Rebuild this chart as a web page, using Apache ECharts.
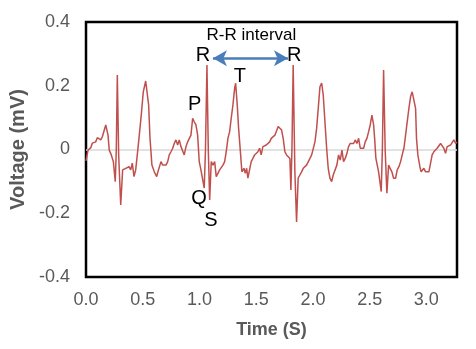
<!DOCTYPE html>
<html>
<head>
<meta charset="utf-8">
<script src="https://cdn.jsdelivr.net/npm/echarts@6/dist/echarts.min.js"></script>
<style>
  html, body { margin: 0; padding: 0; background: #fff; }
  #chart { width: 476px; height: 349px; }
</style>
</head>
<body>
<div id="chart"></div>
<script>
// ECG trace: time (s) and voltage (mV)
const timeS = [
  0.000, 0.018, 0.041, 0.056, 0.070, 0.085, 0.100, 0.115, 0.130, 0.144,
  0.159, 0.174, 0.182, 0.194, 0.205, 0.223, 0.241, 0.258, 0.267, 0.276,
  0.288, 0.306, 0.323, 0.335, 0.350, 0.364, 0.379, 0.394, 0.408, 0.423,
  0.438, 0.452, 0.467, 0.487, 0.505, 0.526, 0.540, 0.552, 0.564, 0.581,
  0.602, 0.623, 0.634, 0.646, 0.661, 0.676, 0.690, 0.705, 0.720, 0.734,
  0.749, 0.764, 0.778, 0.793, 0.808, 0.822, 0.837, 0.852, 0.866, 0.881,
  0.896, 0.910, 0.925, 0.940, 0.954, 0.969, 0.984, 0.998, 1.013, 1.028,
  1.042, 1.053, 1.066, 1.078, 1.090, 1.104, 1.119, 1.134, 1.148, 1.163,
  1.178, 1.192, 1.207, 1.222, 1.236, 1.251, 1.266, 1.280, 1.295, 1.310,
  1.319, 1.333, 1.345, 1.363, 1.374, 1.392, 1.404, 1.416, 1.427, 1.442,
  1.456, 1.471, 1.486, 1.500, 1.515, 1.530, 1.544, 1.559, 1.574, 1.589,
  1.604, 1.619, 1.633, 1.650, 1.665, 1.680, 1.694, 1.709, 1.724, 1.738,
  1.753, 1.768, 1.782, 1.797, 1.806, 1.815, 1.826, 1.841, 1.856, 1.870,
  1.885, 1.900, 1.915, 1.930, 1.944, 1.959, 1.974, 1.989, 2.003, 2.018,
  2.033, 2.047, 2.062, 2.077, 2.091, 2.106, 2.121, 2.135, 2.150, 2.165,
  2.179, 2.196, 2.211, 2.226, 2.241, 2.256, 2.270, 2.285, 2.300, 2.314,
  2.329, 2.344, 2.359, 2.373, 2.388, 2.403, 2.417, 2.432, 2.447, 2.461,
  2.476, 2.491, 2.505, 2.520, 2.535, 2.544, 2.555, 2.567, 2.579, 2.590,
  2.602, 2.612, 2.623, 2.637, 2.652, 2.667, 2.681, 2.696, 2.711, 2.729,
  2.743, 2.758, 2.773, 2.787, 2.802, 2.817, 2.826, 2.837, 2.846, 2.861,
  2.875, 2.890, 2.905, 2.913, 2.925, 2.943, 2.954, 2.966, 2.978, 2.993,
  3.007, 3.022, 3.037, 3.051, 3.066, 3.081, 3.095, 3.110, 3.125, 3.139,
  3.154, 3.169, 3.183, 3.198, 3.213, 3.227, 3.242, 3.258, 3.269
];
const voltageMv = [
  -0.036, -0.002, 0.005, 0.020, 0.014, 0.024, 0.037, 0.035, 0.030, 0.040,
  0.045, 0.077, 0.082, 0.045, -0.002, -0.017, -0.038, -0.101, -0.002, 0.234,
  -0.017, -0.174, -0.064, -0.070, -0.059, -0.064, -0.054, -0.064, -0.043, -0.085,
  -0.064, -0.017, 0.035, 0.108, 0.181, 0.215, 0.218, 0.140, 0.036, -0.049,
  -0.070, -0.085, -0.070, -0.075, -0.038, -0.049, -0.043, -0.049, -0.038, -0.017,
  -0.007, 0.004, 0.019, 0.030, 0.014, 0.030, 0.009, 0.004, -0.017, 0.009,
  0.024, 0.019, 0.045, 0.098, 0.087, 0.077, 0.045, -0.038, -0.064, -0.070,
  -0.121, -0.002, 0.265, -0.002, -0.158, -0.038, -0.049, -0.038, -0.085, -0.090,
  -0.064, -0.059, -0.049, -0.038, -0.007, 0.035, 0.056, 0.098, 0.140, 0.192,
  0.208, 0.140, 0.067, -0.017, -0.070, -0.059, -0.075, -0.059, -0.090, -0.085,
  -0.038, -0.028, -0.017, -0.012, -0.007, 0.004, -0.017, 0.009, 0.004, 0.014,
  0.009, 0.024, 0.035, 0.035, 0.045, 0.051, 0.072, 0.072, 0.061, 0.035,
  -0.007, -0.017, -0.012, -0.028, -0.127, -0.002, 0.265, -0.070, -0.227, -0.090,
  -0.080, -0.070, -0.059, -0.059, -0.049, -0.043, -0.028, -0.017, -0.012, 0.024,
  0.067, 0.129, 0.197, 0.208, 0.171, 0.087, 0.004, -0.059, -0.090, -0.101,
  -0.080, -0.080, -0.049, -0.017, -0.033, -0.002, -0.038, -0.028, -0.012, 0.009,
  0.019, 0.024, 0.019, 0.030, 0.019, 0.035, 0.004, -0.002, 0.004, 0.024,
  0.035, 0.056, 0.077, 0.108, 0.077, 0.035, -0.028, -0.049, -0.070, -0.075,
  -0.132, -0.002, 0.249, -0.002, -0.137, -0.049, -0.054, -0.070, -0.090, -0.090,
  -0.064, -0.054, -0.038, -0.017, 0.004, 0.045, 0.072, 0.077, 0.129, 0.166,
  0.181, 0.181, 0.129, 0.035, -0.017, -0.054, -0.070, -0.064, -0.059, -0.070,
  -0.064, -0.070, -0.043, -0.017, -0.007, -0.002, 0.004, 0.009, 0.019, 0.014,
  0.004, -0.012, 0.009, 0.004, 0.014, 0.009, 0.030, 0.019, 0.024
];

// wave labels placed in data coordinates
const waveLabels = ['R', 'R', 'P', 'T', 'Q', 'S'];
const waveLabelT = [1.031, 1.835, 0.958, 1.357, 0.996, 1.101];
const waveLabelV = [0.295, 0.295, 0.140, 0.229, -0.155, -0.224];

// R-R interval arrow
const rrText = 'R-R interval';
const rrTextPos = [1.458, 0.359];
const rrArrowT = [1.119, 1.780];
const rrArrowV = 0.286;

const chart = echarts.init(document.getElementById('chart'));

const seriesData = timeS.map((t, i) => [t, voltageMv[i]]);

const labelPoints = waveLabels.map((name, i) => ({
  name: name,
  coord: [waveLabelT[i], waveLabelV[i]]
}));
labelPoints.push({
  name: rrText,
  coord: rrTextPos,
  label: { fontSize: 17 }
});

chart.setOption({
  backgroundColor: '#fff',
  animation: false,
  grid: {
    left: 86, right: 19, top: 22, bottom: 72,
    show: true, borderColor: '#000', borderWidth: 2.5, backgroundColor: 'transparent'
  },
  xAxis: {
    type: 'value',
    min: 0,
    max: 3.27,
    interval: 0.5,
    name: 'Time (S)',
    nameLocation: 'middle',
    nameGap: 53,
    nameTextStyle: {
      fontFamily: 'Liberation Sans', fontSize: 18, fontWeight: 'bold',
      color: '#595959', verticalAlign: 'middle'
    },
    axisLine: { show: false },
    axisTick: { show: false },
    splitLine: { show: false },
    axisLabel: {
      showMaxLabel: false,
      margin: 14,
      fontFamily: 'Liberation Sans', fontSize: 18, color: '#595959',
      formatter: v => (Math.abs(v / 0.5 - Math.round(v / 0.5)) > 1e-6 ? '' : v.toFixed(1))
    }
  },
  yAxis: {
    type: 'value',
    min: -0.4,
    max: 0.4,
    interval: 0.2,
    name: 'Voltage (mV)',
    nameLocation: 'middle',
    nameGap: 59,
    nameTextStyle: {
      fontFamily: 'Liberation Sans', fontSize: 20, fontWeight: 'bold',
      color: '#595959', verticalAlign: 'middle'
    },
    axisLine: { show: false },
    axisTick: { show: false },
    splitLine: {
      show: true,
      lineStyle: { color: ['rgba(0,0,0,0)', 'rgba(0,0,0,0)', '#d9d9d9', 'rgba(0,0,0,0)', 'rgba(0,0,0,0)'], width: 1.5 }
    },
    axisLabel: {
      margin: 16,
      fontFamily: 'Liberation Sans', fontSize: 18, color: '#595959',
      formatter: v => (Math.abs(v) < 1e-9 ? '0' : v.toFixed(1))
    }
  },
  series: [
    {
      type: 'line',
      data: seriesData,
      showSymbol: false,
      lineStyle: { color: '#C0504D', width: 1.5 },
      itemStyle: { color: '#C0504D' },
      markPoint: {
        silent: true,
        symbol: 'rect',
        symbolSize: 1,
        itemStyle: { color: 'rgba(0,0,0,0)' },
        label: {
          show: true,
          position: 'inside',
          formatter: '{b}',
          color: '#000',
          fontFamily: 'Liberation Sans',
          fontSize: 20
        },
        data: labelPoints
      },
      markLine: {
        silent: true,
        symbol: ['arrow', 'arrow'],
        symbolSize: [12, 14],
        label: { show: false },
        lineStyle: { color: '#4A7EBB', width: 2.5, type: 'solid' },
        data: [[
          { coord: [rrArrowT[0], rrArrowV] },
          { coord: [rrArrowT[1], rrArrowV] }
        ]]
      }
    }
  ]
});
</script>
</body>
</html>
